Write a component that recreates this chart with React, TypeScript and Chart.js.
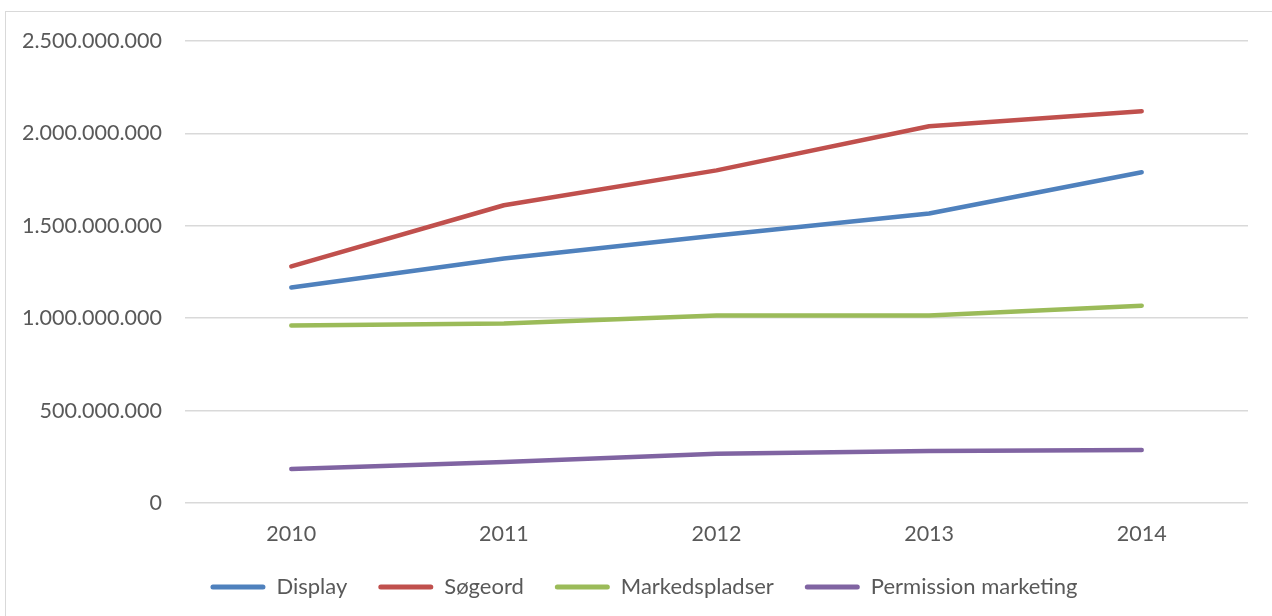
import React, { useEffect, useRef } from "react";
import { Chart, registerables } from "chart.js";

Chart.register(...registerables);

const years = ["2010", "2011", "2012", "2013", "2014"];
const display = [1166000000, 1323000000, 1448000000, 1567000000, 1790000000];
const soegeord = [1280000000, 1611000000, 1800000000, 2039000000, 2120000000];
const markedspladser = [960000000, 971000000, 1014000000, 1014000000, 1068000000];
const permission = [184000000, 222000000, 266000000, 282000000, 287000000];

const seriesNames = ["Display", "Søgeord", "Markedspladser", "Permission marketing"];
const seriesColors = ["#4F81BD", "#C0504D", "#9BBB59", "#8064A2"];
const yTicks = [0, 500000000, 1000000000, 1500000000, 2000000000, 2500000000];

const FONT = "Lato, 'Open Sans', sans-serif";

function fmt(v: number): string {
  return String(Math.round(v)).replace(/\B(?=(\d{3})+(?!\d))/g, ".");
}

const legendShift = {
  id: "legendShift",
  afterLayout(chart: any) {
    if (chart.legend) {
      chart.legend.left += 40;
    }
  },
};

export default function App() {
  const ref = useRef<HTMLCanvasElement | null>(null);
  useEffect(() => {
    if (!ref.current) return;
    const allData = [display, soegeord, markedspladser, permission];
    const chart = new Chart(ref.current, {
      type: "line",
      data: {
        labels: years,
        datasets: allData.map((d, i) => ({
          label: seriesNames[i],
          data: d,
          borderColor: seriesColors[i],
          backgroundColor: seriesColors[i],
          borderWidth: 4.5,
          borderCapStyle: "round" as const,
          borderJoinStyle: "round" as const,
          pointRadius: 0,
          tension: 0,
          fill: false,
        })),
      },
      plugins: [legendShift],
      options: {
        responsive: false,
        animation: false,
        layout: { padding: { top: 41, right: 24, left: 0, bottom: 8 } },
        scales: {
          y: {
            min: 0,
            max: 2500000000,
            afterBuildTicks: (s: any) => {
              s.ticks = yTicks.map((v) => ({ value: v }));
            },
            afterFit: (s: any) => {
              s.width = 185;
            },
            ticks: {
              color: "#595959",
              font: { family: FONT, size: 21.5 },
              padding: 23,
              callback: (v: any) => fmt(Number(v)),
            },
            grid: { color: "#d9d9d9", lineWidth: 1.5, drawTicks: false },
            border: { display: false },
          },
          x: {
            offset: true,
            afterFit: (s: any) => {
              s.height = 42;
            },
            ticks: {
              color: "#595959",
              font: { family: FONT, size: 21.5 },
              padding: 18,
              maxRotation: 0,
            },
            grid: { display: false, drawTicks: false },
            border: { display: false },
          },
        },
        plugins: {
          legend: {
            position: "bottom",
            labels: {
              color: "#595959",
              font: { family: FONT, size: 22 },
              boxWidth: 55,
              boxHeight: 5,
              padding: 31,
              useBorderRadius: true,
              borderRadius: 2.5,
              generateLabels: (c: any) =>
                c.data.datasets.map((ds: any, i: number) => ({
                  text: ds.label,
                  fillStyle: ds.borderColor,
                  strokeStyle: ds.borderColor,
                  lineWidth: 0,
                  fontColor: "#595959",
                  hidden: false,
                  datasetIndex: i,
                  borderRadius: 2.5,
                })),
            },
          },
          tooltip: { enabled: false },
        },
      },
    } as any);
    return () => chart.destroy();
  }, []);

  return (
    <div style={{ position: "absolute", left: 0, top: 0, width: 1272, height: 616, background: "#fff", overflow: "hidden" }}>
      <div
        style={{
          position: "absolute",
          left: 5,
          top: 11,
          width: 1400,
          height: 700,
          borderLeft: "1.5px solid #d9d9d9",
          borderTop: "1.5px solid #d9d9d9",
        }}
      />
      <canvas ref={ref} width={1272} height={616} style={{ position: "absolute", left: 0, top: 0 }} />
    </div>
  );
}
